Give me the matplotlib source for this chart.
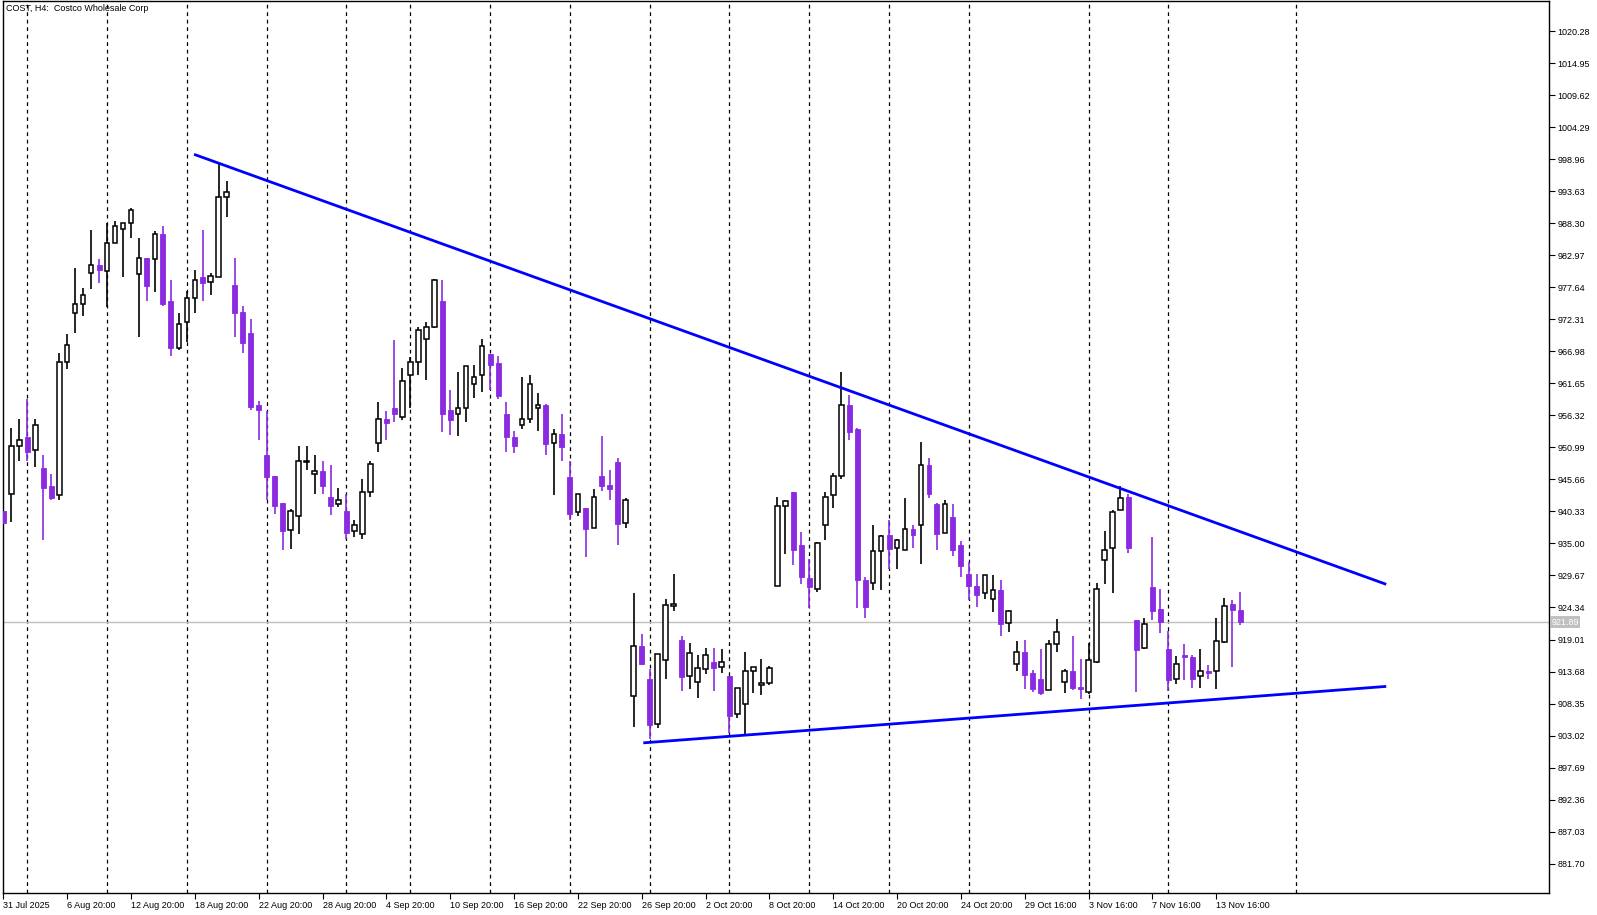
import matplotlib
matplotlib.use("Agg")
import matplotlib.pyplot as plt
import numpy as np

plt.rcParams['font.family'] = ['Liberation Sans', 'DejaVu Sans']

opens = [940.4,943.3,951.3,952.8,950.5,947.5,944.5,943.0,965.3,973.4,974.8,980.1,981.3,980.4,985.1,987.4,988.4,979.9,982.6,982.4,
         986.5,975.4,967.5,971.9,975.9,979.3,978.6,979.4,992.7,978.1,973.6,970.1,958.0,949.7,946.2,941.8,937.2,939.5,948.5,946.5,
         947.0,942.8,941.5,940.4,937.0,936.5,943.5,951.7,955.8,957.6,956.0,963.0,965.2,969.0,971.0,975.4,957.3,956.6,957.6,961.5,
         963.0,966.5,965.0,956.6,952.8,954.7,955.8,957.5,958.1,951.7,953.2,946.0,940.2,940.9,937.5,946.2,944.7,948.5,938.4,909.6,
         917.9,912.4,904.9,915.6,924.6,919.0,912.9,911.9,914.1,915.2,914.4,912.9,906.6,908.3,913.7,911.4,911.7,927.9,941.3,943.5,
         934.7,929.2,927.5,938.0,943.0,946.3,958.0,954.0,929.0,928.5,933.7,936.4,934.2,933.9,937.4,938.0,948.0,941.5,936.7,939.4,
         934.7,929.9,928.0,926.7,925.7,927.2,921.7,914.9,916.9,913.4,912.4,910.6,918.3,911.9,913.7,911.1,910.3,915.2,932.2,934.2,
         940.5,942.8,922.2,917.6,927.7,924.1,917.4,912.4,916.4,916.1,912.9,913.7,913.7,918.6,924.9,923.9]
highs = [940.9,954.2,955.8,959.1,955.7,949.7,946.5,966.8,969.8,980.9,977.6,987.2,982.3,988.4,988.7,988.4,990.9,985.8,982.6,987.1,
         987.8,978.8,973.4,977.1,980.6,987.2,980.1,998.2,995.4,982.6,974.6,972.3,958.8,957.1,946.3,941.8,940.7,951.2,951.3,949.7,
         948.8,948.0,944.3,943.2,938.9,945.8,948.8,958.6,957.0,968.8,964.3,966.0,971.0,971.8,979.1,978.9,960.6,963.6,964.5,964.8,
         969.0,966.6,966.3,958.5,953.8,962.8,963.1,960.1,958.3,954.0,956.5,948.7,943.2,940.9,944.0,952.9,947.3,949.3,942.5,926.7,
         919.9,914.1,916.6,925.7,929.9,919.6,918.5,916.4,917.6,917.6,917.4,912.9,910.9,916.9,914.4,915.8,914.6,942.8,942.3,943.5,
         936.9,932.4,935.2,943.5,946.8,963.5,959.8,954.2,929.5,938.0,936.4,938.9,935.7,942.5,938.0,951.9,949.3,941.7,942.2,941.5,
         935.4,931.9,929.9,929.7,929.7,929.0,924.0,918.8,919.0,913.9,917.4,918.9,922.4,914.1,919.6,915.8,918.4,928.4,937.0,940.5,
         944.5,943.2,922.2,922.6,936.0,927.4,920.4,916.2,918.3,916.4,917.4,914.7,922.6,926.0,925.6,927.0]
lows = [938.0,938.5,948.8,948.7,947.8,935.5,942.3,942.3,964.0,970.1,972.9,977.4,978.4,974.4,985.1,979.3,985.8,969.3,975.3,976.8,
        974.6,966.3,967.3,968.5,973.3,975.4,976.3,979.4,989.4,969.3,966.8,957.3,952.3,942.2,939.9,933.9,934.0,936.5,947.3,943.3,
        943.3,939.7,941.0,935.7,936.0,935.7,942.7,950.3,952.3,955.3,955.5,957.6,963.0,962.3,970.8,953.6,953.1,952.9,955.3,959.3,
        960.3,960.5,959.0,950.2,950.0,954.0,955.0,953.8,949.8,943.0,948.7,938.9,939.5,932.7,937.5,943.8,942.2,934.7,937.5,904.4,
        914.7,902.4,904.3,912.4,923.7,910.4,910.7,909.3,913.2,910.4,913.4,903.4,905.9,903.1,910.1,909.8,911.4,927.9,933.2,931.4,
        928.2,924.2,926.9,935.5,940.9,945.7,952.3,924.2,922.6,927.2,927.2,930.7,930.7,933.9,934.2,931.5,942.5,933.9,936.7,932.9,
        929.4,925.6,924.4,925.7,923.6,919.6,920.2,913.7,910.7,910.2,909.8,910.6,916.9,910.1,910.6,909.1,910.0,915.1,928.2,926.7,
        940.5,933.4,910.2,917.4,922.2,920.1,910.4,911.6,912.2,910.9,910.9,912.4,910.7,918.4,914.4,921.4]
closes = [938.4,951.3,952.3,950.3,954.7,944.3,942.5,965.3,968.0,974.8,976.4,981.3,980.6,985.1,987.9,988.4,990.6,982.6,977.8,986.5,
          974.9,967.5,971.5,975.9,978.8,978.4,979.6,992.7,993.6,973.4,968.3,957.8,957.3,946.0,941.3,937.0,940.4,948.7,948.7,947.0,
          944.5,941.3,942.2,936.7,938.0,943.5,948.3,955.8,955.0,956.6,962.0,965.2,970.6,971.1,978.9,956.6,955.5,957.6,964.5,962.8,
          967.8,964.8,959.5,952.7,951.2,955.8,961.6,958.1,951.5,953.2,951.0,939.9,943.2,937.4,942.7,944.5,944.0,938.2,942.2,917.9,
          914.9,904.8,916.6,924.7,924.7,912.7,916.7,914.2,916.4,914.2,915.2,906.3,910.9,913.7,914.4,911.7,914.2,941.3,942.0,933.9,
          929.5,927.7,935.0,942.8,946.2,958.0,953.5,928.9,924.4,933.7,936.2,934.0,935.5,937.4,936.4,948.0,943.3,936.5,941.5,933.9,
          931.2,927.9,926.4,929.7,927.2,921.6,923.7,916.9,913.1,910.7,910.1,918.3,920.2,913.7,910.9,910.7,915.6,927.4,933.9,940.2,
          942.5,934.2,917.2,921.6,923.7,921.9,912.2,914.9,916.1,912.4,913.7,913.4,918.7,924.6,923.9,921.89]

tick_pos = list(range(0, 153, 8))
tick_labels = ["31 Jul 2025", "6 Aug 20:00", "12 Aug 20:00", "18 Aug 20:00", "22 Aug 20:00", "28 Aug 20:00",
               "4 Sep 20:00", "10 Sep 20:00", "16 Sep 20:00", "22 Sep 20:00", "26 Sep 20:00", "2 Oct 20:00",
               "8 Oct 20:00", "14 Oct 20:00", "20 Oct 20:00", "24 Oct 20:00", "29 Oct 16:00", "3 Nov 16:00",
               "7 Nov 16:00", "13 Nov 16:00"]
day_grid = [3, 13, 23, 33, 43, 51, 61, 71, 81, 91, 101, 111, 121, 136, 146, 162]
y_ticks = [1020.28,1014.95,1009.62,1004.29,998.96,993.63,988.30,982.97,977.64,972.31,966.98,961.65,956.32,950.99,
           945.66,940.33,935.00,929.67,924.34,919.01,913.68,908.35,903.02,897.69,892.36,887.03,881.70]
upper_line = ([23.9, 173.3], [999.8, 928.2])
lower_line = ([80.2, 173.3], [901.8, 911.2])
last_price = 921.89
title = "COST, H4:  Costco Wholesale Corp"

W, H = 1597, 915
fig = plt.figure(figsize=(W/100, H/100), dpi=100)
ax = fig.add_axes([2.7/W, 22/H, (1549-2.7)/W, (893-1)/H])
ax.set_xlim(-0.08, 193.7)
ax.set_ylim(876.8, 1025.33)

purple = '#8A2BE2'
o = np.array(opens); h = np.array(highs); l = np.array(lows); c = np.array(closes)
x = np.arange(len(o))
bull = c >= o
for xi, oi, hi, li, ci, b in zip(x, o, h, l, c, bull):
    col = 'black' if b else purple
    ax.vlines(xi, li, hi, color=col, lw=1.2, zorder=2)
    bot = min(oi, ci); ht = max(abs(ci - oi), 0.25)
    if b:
        ax.bar(xi, ht, bottom=bot, width=0.58, facecolor='white', edgecolor='black', lw=1.1, zorder=3)
    else:
        ax.bar(xi, ht, bottom=bot, width=0.62, facecolor=purple, edgecolor=purple, lw=0.6, zorder=3)

for g in day_grid:
    ax.axvline(g, color='black', lw=0.9, ls=(0, (3, 3)), zorder=1)

ax.axhline(last_price, color='#c0c0c0', lw=1, zorder=1)
ax.plot(*upper_line, color='#0000ff', lw=2, zorder=4, solid_capstyle='butt')
ax.plot(*lower_line, color='#0000ff', lw=2, zorder=4, solid_capstyle='butt')

ax.set_xticks(tick_pos)
ax.set_xticklabels(tick_labels, ha='left', fontsize=6.5)
ax.yaxis.tick_right()
ax.set_yticks(y_ticks)
ax.set_yticklabels([f"{v:.2f}" for v in y_ticks], fontsize=6.5)
ax.tick_params(axis='both', length=4, width=0.8, color='black', pad=2)
for s in ax.spines.values():
    s.set_linewidth(1)
ax.text(1.0015, last_price, f"{last_price:.2f}", transform=ax.get_yaxis_transform(),
        fontsize=6.5, color='white', va='center', ha='left',
        bbox=dict(boxstyle='square,pad=0.15', fc='#c0c0c0', ec='none'))
ax.text(0.002, 0.997, title, transform=ax.transAxes, fontsize=6.5, va='top', ha='left')
fig.savefig('out.png', dpi=100)
